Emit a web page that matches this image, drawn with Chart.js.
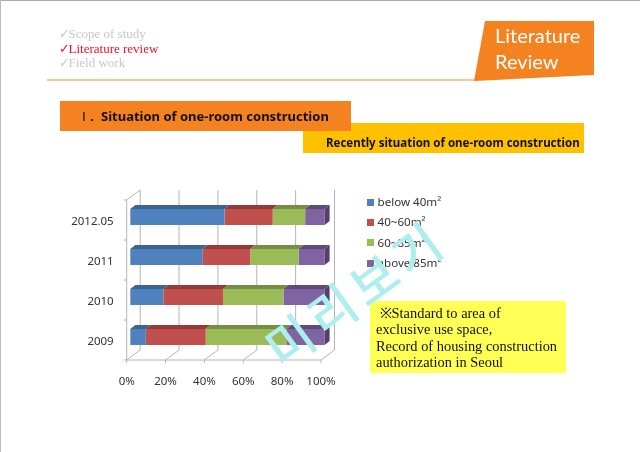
<!DOCTYPE html>
<html>
<head>
<meta charset="utf-8">
<title>Literature Review</title>
<script src="https://cdn.jsdelivr.net/npm/chart.js@4/dist/chart.umd.min.js"></script>
<style>
html, body { margin: 0; padding: 0; background: #fff; overflow: hidden; }
#slide { position: relative; width: 640px; height: 452px; overflow: hidden; }
#slide div, #slide svg { position: absolute; white-space: nowrap; }
canvas { position: absolute; left: 0; top: 0; }
.nav { left: 59px; font: 13px "Liberation Serif", serif; color: #c8c8c8; line-height: 16px; }
.nav.on { color: #f0102a; }
.nav span { display: inline-block; width: 9.5px; }
.title { left: 495px; font: 20px Lato, sans-serif; color: #fff; line-height: 26px; }
.bar { font-family: "Noto Sans", sans-serif; font-weight: bold; color: #111; }
.noteLine { left: 376px; font: 14.4px "Liberation Serif", serif; color: #111; line-height: 16px; }
.legendItem { left: 377.5px; font: 11.6px "Noto Sans", sans-serif; color: #333; line-height: 16px; }
.legendBox { left: 367px; width: 7px; height: 7px; }
</style>
</head>
<body>
<div id="slide">
  <canvas id="chart" width="640" height="452"></canvas>
  <div style="left:0;top:0;width:640px;height:1px;background:#aaa"></div>
  <div style="left:0;top:0;width:1px;height:452px;background:#bbb"></div>
  <div class="nav" style="top:26px"><span>✓</span>Scope of study</div>
  <div class="nav on" style="top:41px"><span>✓</span>Literature review</div>
  <div class="nav" style="top:55px"><span>✓</span>Field work</div>
  <div style="left:47px;top:79px;width:430px;height:2px;background:#fcc79a"></div>
  <svg style="left:0;top:0" width="640" height="452"><polygon points="485,21 594,21 594,75 474,81" fill="#f58220"/></svg>
  <div class="title" style="top:22px">Literature</div>
  <div class="title" style="top:48px">Review</div>
  <div style="left:303px;top:123px;width:281px;height:30px;background:#ffc000"></div>
  <div style="left:60px;top:101px;width:291px;height:30px;background:#f58220"></div>
  <div class="bar" style="left:82px;top:107px;font-size:13px;line-height:19px;font-weight:normal">Ⅰ</div>
  <div class="bar" style="left:90px;top:107px;font-size:13px;line-height:19px">.</div>
  <div class="bar" style="left:101px;top:107px;font-size:13px;line-height:19px">Situation of one-room construction</div>
  <div class="bar" style="left:326px;top:134px;font-size:11.5px;line-height:18px">Recently situation of one-room construction</div>
  <div style="left:370px;top:301px;width:196px;height:72px;background:#ffff55"></div>
  <div class="noteLine" style="top:305px">&nbsp;※Standard to area of</div>
  <div class="noteLine" style="top:321px">exclusive use space,</div>
  <div class="noteLine" style="top:338px">Record of housing construction</div>
  <div class="noteLine" style="top:354px">authorization in Seoul</div>
  <div id="legend"></div>
  <div style="left:354px;top:291px;width:0;height:0">
    <div style="left:-140px;top:-45px;width:280px;text-align:center;font:500 50px 'Noto Sans CJK KR',sans-serif;line-height:90px;letter-spacing:6px;color:#aeeeee;transform:rotate(-36deg)">미리보기</div>
  </div>
</div>
<script>
// Chart data
const categories = ['2012.05', '2011', '2010', '2009'];
const seriesNames = ['below 40m²', '40~60m²', '60~85m²', 'above 85m²'];
const below40 = [48.5, 37.3, 17, 8];
const from40to60 = [24.8, 24.4, 30.7, 30.8];
const from60to85 = [16.7, 25, 31.1, 41.5];
const above85 = [10, 13.3, 21.2, 19.7];
const xTicks = [0, 20, 40, 60, 80, 100];

const fillColors = ['#4f81bd', '#c0504d', '#9bbb59', '#8064a2'];
const topColors = ['#3a6491', '#953a38', '#758f42', '#5f4a7c'];
const sideColors = ['#355b85', '#87332f', '#6b833b', '#54406f'];

// Offsets that fake the 3D look of the original
const barShift = { x: 3.6, y: -3 };
const barDepth = { x: 5, y: -4 };
const wallDepth = { x: 13.5, y: -10 };

function drawQuad(ctx, pts, color) {
    ctx.fillStyle = color;
    ctx.beginPath();
    ctx.moveTo(pts[0][0], pts[0][1]);
    pts.slice(1).forEach(p => ctx.lineTo(p[0], p[1]));
    ctx.closePath();
    ctx.fill();
}

const box3d = {
    id: 'box3d',
    beforeDatasetsDraw(chart) {
        const ctx = chart.ctx;
        const area = chart.chartArea;
        const x = chart.scales.x;
        const y = chart.scales.y;

        // walls and floor
        ctx.save();
        ctx.strokeStyle = '#b4b4b4';
        ctx.lineWidth = 1;
        ctx.beginPath();
        xTicks.forEach(v => {
            const px = x.getPixelForValue(v);
            ctx.moveTo(px + wallDepth.x, area.top + wallDepth.y);
            ctx.lineTo(px + wallDepth.x, area.bottom + wallDepth.y);
            ctx.lineTo(px, area.bottom);
            ctx.lineTo(px, area.bottom + 3);
        });
        ctx.moveTo(area.left, area.bottom);
        ctx.lineTo(area.right, area.bottom);
        ctx.moveTo(area.left, area.bottom);
        ctx.lineTo(area.left, area.top);
        ctx.lineTo(area.left + wallDepth.x, area.top + wallDepth.y);
        categories.forEach((c, i) => {
            const py = y.getPixelForValue(i) + 20;
            ctx.moveTo(area.left - 3, py);
            ctx.lineTo(area.left, py);
        });
        ctx.moveTo(area.left - 3, area.top);
        ctx.lineTo(area.left, area.top);
        ctx.stroke();
        ctx.restore();

        ctx.save();
        ctx.translate(barShift.x, barShift.y);
    },
    afterDatasetsDraw(chart) {
        const ctx = chart.ctx;
        const count = chart.data.datasets.length;
        chart.data.datasets.forEach((ds, i) => {
            chart.getDatasetMeta(i).data.forEach(bar => {
                const top = bar.y - bar.height / 2;
                const bottom = bar.y + bar.height / 2;
                drawQuad(ctx, [[bar.base, top], [bar.x, top],
                    [bar.x + barDepth.x, top + barDepth.y], [bar.base + barDepth.x, top + barDepth.y]], topColors[i]);
                if (i === count - 1) {
                    drawQuad(ctx, [[bar.x, top], [bar.x + barDepth.x, top + barDepth.y],
                        [bar.x + barDepth.x, bottom + barDepth.y], [bar.x, bottom]], sideColors[i]);
                }
            });
        });
        ctx.restore();
    }
};

const tickFont = { family: '"Noto Sans", sans-serif', size: 11.5 };

const chart = new Chart(document.getElementById('chart'), {
    type: 'bar',
    data: {
        labels: categories,
        datasets: [below40, from40to60, from60to85, above85].map((values, i) => ({
            label: seriesNames[i],
            data: values,
            backgroundColor: fillColors[i],
            categoryPercentage: 1,
            barPercentage: 0.4,
            clip: false
        }))
    },
    options: {
        indexAxis: 'y',
        responsive: false,
        animation: false,
        layout: { padding: { left: 0, top: 200, right: 319, bottom: 40 } },
        plugins: { legend: { display: false }, tooltip: { enabled: false } },
        scales: {
            x: {
                stacked: true,
                min: 0,
                max: 100,
                grid: { display: false },
                border: { display: false },
                ticks: {
                    stepSize: 20,
                    maxRotation: 0,
                    padding: 7,
                    color: '#333',
                    font: tickFont,
                    callback: v => v + '%'
                },
                afterFit(scale) { scale.height = 52; }
            },
            y: {
                stacked: true,
                grid: { display: false },
                border: { display: false },
                ticks: { padding: 5, labelOffset: 2, color: '#333', font: tickFont },
                afterFit(scale) { scale.width = 126.7; }
            }
        }
    },
    plugins: [box3d]
});

// Legend built from the series
const legendEl = document.getElementById('legend');
seriesNames.forEach((name, i) => {
    const top = 202 + i * 20.4;
    legendEl.innerHTML += '<div class="legendBox" style="top:' + (top - 3.5) + 'px;background:' + fillColors[i] + '"></div>' +
        '<div class="legendItem" style="top:' + (top - 8) + 'px">' + name + '</div>';
});
</script>
</body>
</html>
